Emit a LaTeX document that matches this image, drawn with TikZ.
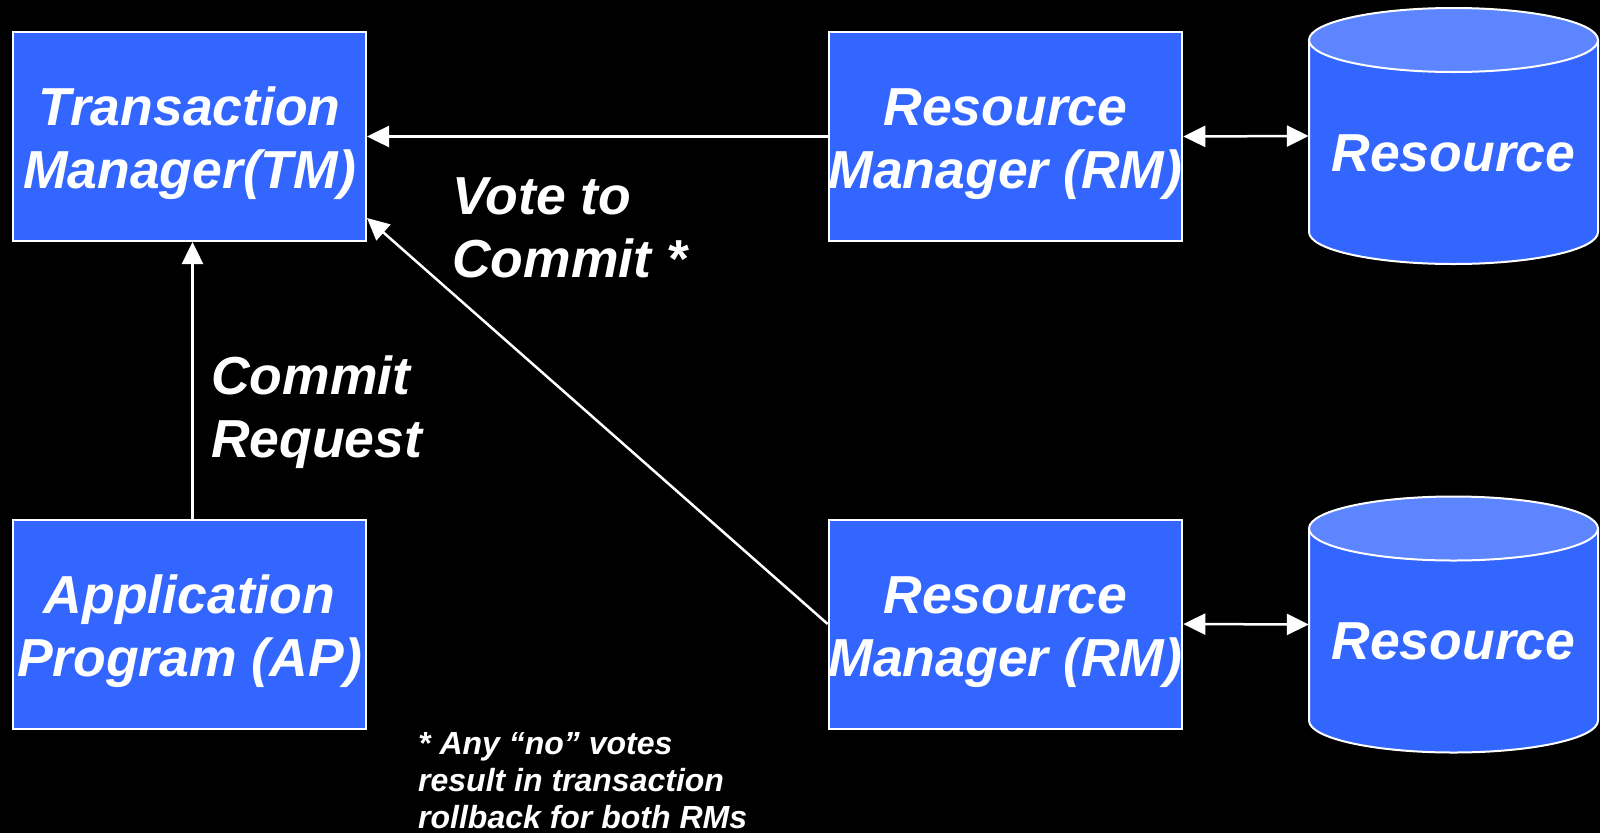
\documentclass[tikz,border=0pt]{standalone}
\usepackage{fontspec}
\setmainfont{Liberation Sans}
\usetikzlibrary{arrows.meta}
\definecolor{boxblue}{RGB}{51,102,255}
\definecolor{capblue}{RGB}{92,133,255}
% invisible strut that lowers the two-line box texts a little
\newcommand\firstlinestrut{\rule{0pt}{53pt}}

\begin{document}
\begin{tikzpicture}[x=1pt,y=1pt,
  every node/.style={text=white, font=\fontsize{53.5}{63}\selectfont\bfseries\itshape},
  block/.style={draw=white, line width=2pt, fill=boxblue, minimum width=353pt,
    minimum height=209pt, inner sep=0pt, align=center},
  note/.style={align=left, inner sep=0pt, anchor=west},
  tip/.tip={Triangle[length=22pt,width=21pt]},
  link/.style={draw=white, line width=2.5pt, -tip},
  twoway/.style={draw=white, line width=2.5pt, tip-tip},
  pics/drum/.style={code={
    \fill[boxblue] (-144.5,96) -- (-144.5,-96)
      arc[start angle=180,end angle=360,x radius=144.5,y radius=32] -- (144.5,96) -- cycle;
    \draw[white,line width=2pt] (-144.5,96) -- (-144.5,-96)
      arc[start angle=180,end angle=360,x radius=144.5,y radius=32] -- (144.5,96);
    \filldraw[fill=capblue,draw=white,line width=2pt] (0,96) ellipse[x radius=144.5,y radius=32];
    \node[minimum width=289pt, minimum height=192pt, inner sep=0pt] (-body) at (0,0) {};
    \node (-label) at (0,-17) {Resource};
  }}
]
  % black page
  \fill[black] (0,0) rectangle (1600,-833);
  \useasboundingbox (0,0) rectangle (1600,-833);

  % managers and program
  \node[block] (tm)  at (189.5,-136.5)  {\firstlinestrut Transaction\\Manager(TM)};
  \node[block] (rm1) at (1005.5,-136.5) {\firstlinestrut Resource\\Manager (RM)};
  \node[block] (ap)  at (189.5,-624)    {\firstlinestrut Application\\Program (AP)};
  \node[block] (rm2) at (1005.5,-624)   {\firstlinestrut Resource\\Manager (RM)};

  % resources
  \pic (res1) at (1453.5,-136) {drum};
  \pic (res2) at (1453.5,-624.5) {drum};

  % connectors
  \coordinate (tmvote) at ([yshift=24pt]tm.south east);
  \draw[link] (rm1.west) -- (tm.east);
  \draw[link] (rm2.west) -- (tmvote);
  \draw[link] ([xshift=3pt]ap.north) -- ([xshift=3pt]tm.south);
  \draw[twoway] (rm1.east) -- (res1-body.west);
  \draw[twoway] (rm2.east) -- (res2-body.west);

  % labels
  \node[note] (vote) at (452,-228) {Vote to\\Commit *};
  \node[note] (req) at (211,-412.5) {Commit\\Request};
  \node[note, font=\fontsize{32}{37}\selectfont\bfseries\itshape] (foot) at (418,-781)
    {* Any “no” votes\\result in transaction\\rollback for both RMs};
\end{tikzpicture}
\end{document}
